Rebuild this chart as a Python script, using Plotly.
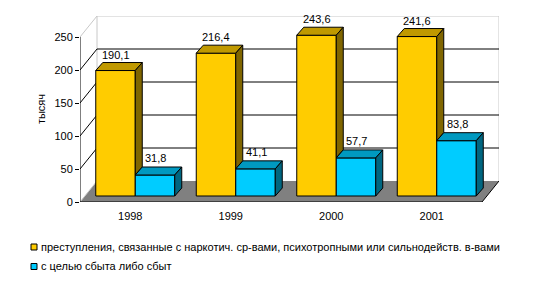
import plotly.graph_objects as go

# ---------------- data ----------------
years = ["1998", "1999", "2000", "2001"]
drug_crimes = [190.1, 216.4, 243.6, 241.6]
sales = [31.8, 41.1, 57.7, 83.8]
y_ticks = [0, 50, 100, 150, 200, 250]
series_names = [
    "преступления, связанные с наркотич. ср-вами, психотропными или сильнодейств. в-вами",
    "с целью сбыта либо сбыт",
]
y_title = "тысяч"

# ---------------- styling / geometry ----------------
FONT = "Liberation Sans, Arial, sans-serif"
W, H = 537, 287
L, R, T, B = 80, 38, 16, 85
plot_w = W - L - R
plot_h = H - T - B
PX_X = 100.5      # pixels per category
PX_Y = 0.66       # pixels per value unit
x_min = -0.5
x_max = x_min + plot_w / PX_X
y_max = plot_h / PX_Y


def dxu(px):
    return px / PX_X


def dyu(px):
    return px / PX_Y


wall_dx, wall_dy = dxu(17), dyu(21)      # back wall offset
plane_dx, plane_dy = dxu(5), dyu(6)      # bar plane offset
depth_dx, depth_dy = dxu(7), dyu(8)      # bar depth
bw = dxu(39.5)                           # bar width

YEL, YEL_TOP, YEL_SIDE = "#FFCC00", "#C09900", "#806600"
BLU, BLU_TOP, BLU_SIDE = "#00CCFF", "#0099C0", "#006680"
WALL_EDGE = "#C8C8C8"
FLOOR = "#808080"

n = len(years)
x_lo, x_hi = -0.5, n - 0.5
y_top = y_ticks[-1]
centers = [i + plane_dx for i in range(n)]

fig = go.Figure()

# ---------------- shapes: walls, floor, grid ----------------
shapes = []
# floor
shapes.append(dict(type="path", layer="below", xref="x", yref="y",
                   path=f"M{x_lo},0 L{x_hi},0 L{x_hi+wall_dx},{wall_dy} L{x_lo+wall_dx},{wall_dy} Z",
                   fillcolor=FLOOR, line=dict(width=0)))
# floor right edge
shapes.append(dict(type="line", layer="below", xref="x", yref="y",
                   x0=x_hi, y0=0, x1=x_hi + wall_dx, y1=wall_dy, line=dict(color="black", width=1)))
# wall borders (light gray)
for (a, b, c, d) in [
    (x_lo + wall_dx, y_top + wall_dy, x_hi + wall_dx, y_top + wall_dy),
    (x_hi + wall_dx, wall_dy, x_hi + wall_dx, y_top + wall_dy),
    (x_lo + wall_dx, wall_dy, x_lo + wall_dx, y_top + wall_dy),
    (x_lo, y_top, x_lo + wall_dx, y_top + wall_dy),
    (x_lo, 0, x_lo + wall_dx, wall_dy),
]:
    shapes.append(dict(type="line", layer="below", xref="x", yref="y",
                       x0=a, y0=b, x1=c, y1=d, line=dict(color=WALL_EDGE, width=1)))
# gridlines (left wall diagonals + back wall horizontals)
for v in y_ticks[1:-1]:
    shapes.append(dict(type="line", layer="below", xref="x", yref="y",
                       x0=x_lo, y0=v, x1=x_lo + wall_dx, y1=v + wall_dy,
                       line=dict(color="black", width=1)))
    shapes.append(dict(type="line", layer="below", xref="x", yref="y",
                       x0=x_lo + wall_dx, y0=v + wall_dy, x1=x_hi + wall_dx, y1=v + wall_dy,
                       line=dict(color="black", width=1)))
# front axis lines
shapes.append(dict(type="line", layer="below", xref="x", yref="y",
                   x0=x_lo, y0=0, x1=x_lo, y1=y_top, line=dict(color="black", width=1)))
shapes.append(dict(type="line", layer="below", xref="x", yref="y",
                   x0=x_lo, y0=0, x1=x_hi, y1=0, line=dict(color="black", width=1)))
# x boundary ticks
for i in range(n + 1):
    shapes.append(dict(type="line", layer="below", xref="x", yref="y",
                       ysizemode="pixel", yanchor=0, x0=x_lo + i, x1=x_lo + i, y0=0, y1=-4,
                       line=dict(color="black", width=1)))

# ---------------- bars (front faces) ----------------
fig.add_trace(go.Bar(x=centers, y=drug_crimes, base=plane_dy, width=bw, offset=-bw,
                     marker=dict(color=YEL, line=dict(color="black", width=1)),
                     name=series_names[0], showlegend=False, hoverinfo="skip"))
fig.add_trace(go.Bar(x=centers, y=sales, base=plane_dy, width=bw, offset=0,
                     marker=dict(color=BLU, line=dict(color="black", width=1)),
                     name=series_names[1], showlegend=False, hoverinfo="skip"))


def face(xs, ys, color):
    fig.add_trace(go.Scatter(x=xs, y=ys, mode="lines", fill="toself", fillcolor=color,
                             line=dict(color="black", width=1), showlegend=False,
                             hoverinfo="skip"))


annotations = []
for i in range(n):
    c = centers[i]
    # yellow bar
    x0, x1 = c - bw, c
    top = plane_dy + drug_crimes[i]
    face([x0, x0 + depth_dx, x1 + depth_dx, x1, x0],
         [top, top + depth_dy, top + depth_dy, top, top], YEL_TOP)
    bot = plane_dy + sales[i]
    face([x1, x1, x1 + depth_dx, x1 + depth_dx, x1],
         [bot, top, top + depth_dy, bot + depth_dy, bot], YEL_SIDE)
    annotations.append(dict(x=(x0 + x1) / 2, y=top + depth_dy, xref="x", yref="y",
                            text=f"{drug_crimes[i]:.1f}".replace(".", ","), showarrow=False,
                            yanchor="bottom", yshift=0, font=dict(size=11, color="black", family=FONT)))
    # blue bar
    x0, x1 = c, c + bw
    top = plane_dy + sales[i]
    face([x0, x0 + depth_dx, x1 + depth_dx, x1, x0],
         [top, top + depth_dy, top + depth_dy, top, top], BLU_TOP)
    face([x1, x1, x1 + depth_dx, x1 + depth_dx, x1],
         [plane_dy, top, top + depth_dy, plane_dy + depth_dy, plane_dy], BLU_SIDE)
    annotations.append(dict(x=(x0 + x1) / 2 + depth_dx * 0.1, y=top + depth_dy, xref="x", yref="y",
                            text=f"{sales[i]:.1f}".replace(".", ","), showarrow=False,
                            yanchor="bottom", yshift=1, font=dict(size=11, color="black", family=FONT)))

# ---------------- legend (manual) ----------------
def px_to_paper(px, py):
    return (px - L) / plot_w, (H - B - py) / plot_h


for k, (name, col) in enumerate(zip(series_names, [YEL, BLU])):
    cy = 247 + k * 19.5
    xa, ya = px_to_paper(31, cy - 3)
    xb, yb = px_to_paper(37, cy + 3)
    shapes.append(dict(type="rect", xref="paper", yref="paper", x0=xa, x1=xb, y0=ya, y1=yb,
                       fillcolor=col, line=dict(color="black", width=1)))
    tx, ty = px_to_paper(39, cy - 0.5)
    annotations.append(dict(x=tx, y=ty, xref="paper", yref="paper", text=name, showarrow=False,
                            xanchor="left", yanchor="middle",
                            font=dict(size=11, color="black", family=FONT)))

fig.update_layout(
    width=W, height=H, autosize=False,
    margin=dict(l=L, r=R, t=T, b=B, pad=0),
    paper_bgcolor="white", plot_bgcolor="white",
    barmode="overlay",
    showlegend=False,
    font=dict(family=FONT, size=11, color="black"),
    xaxis=dict(range=[x_min, x_max], tickmode="array", tickvals=list(range(n)), ticktext=years,
               ticks="outside", ticklen=4, tickcolor="rgba(0,0,0,0)",
               showgrid=False, zeroline=False, showline=False, fixedrange=True),
    yaxis=dict(range=[0, y_max], tickmode="array", tickvals=y_ticks,
               ticktext=[str(v) for v in y_ticks],
               ticks="outside", ticklen=4, tickcolor="black",
               showgrid=False, zeroline=False, showline=False, fixedrange=True,
               title=dict(text=y_title, font=dict(size=11, family=FONT, color="black"), standoff=6)),
    shapes=shapes,
    annotations=annotations,
)

fig.write_html("out.html")
